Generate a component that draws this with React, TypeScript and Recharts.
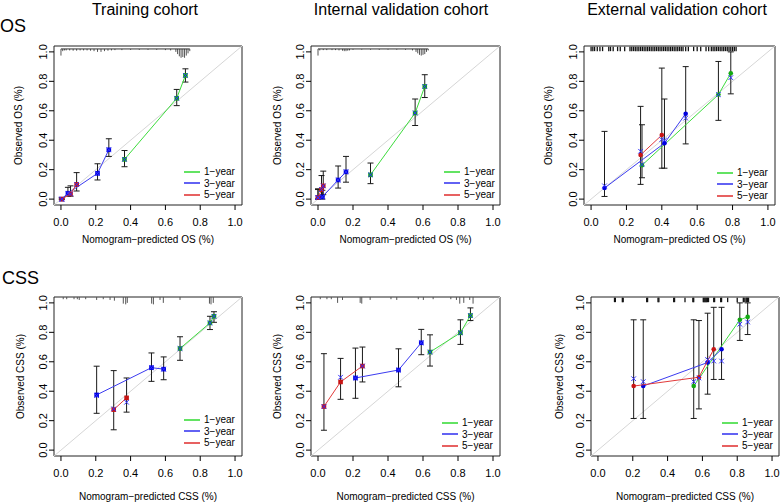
import React from "react";
import { ScatterChart, Scatter, XAxis, YAxis, ErrorBar, ReferenceLine, ReferenceArea, Legend } from "recharts";

const font = '"Liberation Sans", Arial, Helvetica, sans-serif';

const axisTicks = [0, 0.2, 0.4, 0.6, 0.8, 1.0];
const seriesNames = ["1\u2212year", "3\u2212year", "5\u2212year"];
const lineColors = ["#3ddc3d", "#3b3bf0", "#e23a3a"];
const markerColors = ["#12a812", "#0000e0", "#c81414"];
const corrColor = "#2f2fff";

// rows: [predicted, observed, lower CI, upper CI, bias-corrected]
const trainOs1y = [[0.365, 0.27, 0.22, 0.33, 0.27], [0.665, 0.685, 0.635, 0.745, 0.685], [0.715, 0.84, 0.795, 0.885, 0.84]];
const trainOs3y = [[0.005, 0.0, 0.0, 0.01, 0.0], [0.04, 0.04, 0.02, 0.08, 0.04], [0.21, 0.175, 0.13, 0.24, 0.175], [0.275, 0.335, 0.29, 0.41, 0.335]];
const trainOs5y = [[0.005, 0.0, 0.0, 0.01, 0.0], [0.055, 0.035, 0.02, 0.09, 0.035], [0.09, 0.1, 0.055, 0.18, 0.1]];

const intOs1y = [[0.3, 0.165, 0.105, 0.245, 0.165], [0.555, 0.585, 0.5, 0.68, 0.585], [0.61, 0.765, 0.69, 0.845, 0.765]];
const intOs3y = [[0.0, 0.01, 0.0, 0.065, 0.01], [0.025, 0.015, 0.0, 0.06, 0.015], [0.115, 0.13, 0.075, 0.225, 0.13], [0.16, 0.185, 0.115, 0.29, 0.185]];
const intOs5y = [[0.0, 0.01, 0.0, 0.07, 0.01], [0.02, 0.065, 0.02, 0.16, 0.065], [0.03, 0.09, 0.03, 0.19, 0.09]];

const extOs1y = [[0.288, 0.23, 0.145, 0.505, 0.235], [0.72, 0.71, 0.535, 0.935, 0.71], [0.79, 0.855, 0.715, 1.0, 0.825]];
const extOs3y = [[0.076, 0.075, 0.018, 0.46, 0.09], [0.415, 0.38, 0.21, 0.68, 0.4], [0.535, 0.58, 0.375, 0.9, 0.55]];
const extOs5y = [[0.28, 0.3, 0.1, 0.63, 0.325], [0.4, 0.435, 0.21, 0.89, 0.405]];

const trainCss1y = [[0.684, 0.69, 0.61, 0.77, 0.69], [0.856, 0.864, 0.819, 0.909, 0.864], [0.879, 0.909, 0.868, 0.94, 0.909]];
const trainCss3y = [[0.205, 0.375, 0.25, 0.57, 0.37], [0.52, 0.56, 0.467, 0.66, 0.56], [0.59, 0.55, 0.478, 0.633, 0.55]];
const trainCss5y = [[0.303, 0.275, 0.138, 0.54, 0.28], [0.377, 0.355, 0.258, 0.49, 0.325]];

const intCss1y = [[0.64, 0.666, 0.571, 0.783, 0.666], [0.814, 0.797, 0.718, 0.885, 0.797], [0.871, 0.914, 0.88, 0.966, 0.914]];
const intCss3y = [[0.214, 0.49, 0.352, 0.693, 0.49], [0.46, 0.544, 0.43, 0.688, 0.544], [0.59, 0.729, 0.648, 0.82, 0.729]];
const intCss5y = [[0.034, 0.296, 0.135, 0.655, 0.296], [0.129, 0.463, 0.345, 0.623, 0.495], [0.254, 0.571, 0.463, 0.7, 0.571]];

const extCss1y = [[0.55, 0.435, 0.215, 0.885, 0.465], [0.815, 0.885, 0.745, 1.0, 0.855], [0.86, 0.905, 0.785, 1.0, 0.87]];
const extCss3y = [[0.26, 0.435, 0.215, 0.885, 0.465], [0.63, 0.595, 0.38, 0.93, 0.615], [0.71, 0.685, 0.48, 0.97, 0.605]];
const extCss5y = [[0.205, 0.435, 0.215, 0.885, 0.485], [0.58, 0.495, 0.28, 0.88, 0.49], [0.665, 0.685, 0.48, 0.97, 0.605]];

// rug of predicted values along the top of each panel
const trainOsRugX = [0.0, 0.01, 0.02, 0.03, 0.05, 0.07, 0.09, 0.11, 0.13, 0.15, 0.17, 0.19, 0.21, 0.23, 0.25, 0.27, 0.29, 0.31, 0.35, 0.4, 0.45, 0.5, 0.55, 0.6, 0.63, 0.66, 0.67, 0.68, 0.69, 0.7, 0.71, 0.72, 0.73, 0.74];
const trainOsRugH = [0.045, 0.015, 0.01, 0.01, 0.01, 0.012, 0.012, 0.01, 0.01, 0.01, 0.012, 0.015, 0.02, 0.02, 0.015, 0.012, 0.01, 0.008, 0.008, 0.006, 0.006, 0.006, 0.006, 0.008, 0.01, 0.02, 0.035, 0.05, 0.06, 0.055, 0.06, 0.045, 0.03, 0.015];
const intOsRugX = [0.0, 0.01, 0.03, 0.05, 0.08, 0.1, 0.12, 0.14, 0.15, 0.16, 0.17, 0.18, 0.2, 0.25, 0.3, 0.35, 0.4, 0.45, 0.5, 0.54, 0.56, 0.57, 0.58, 0.59, 0.6, 0.61, 0.62, 0.63];
const intOsRugH = [0.045, 0.01, 0.008, 0.008, 0.008, 0.008, 0.01, 0.012, 0.015, 0.015, 0.012, 0.01, 0.006, 0.005, 0.005, 0.006, 0.005, 0.005, 0.006, 0.01, 0.02, 0.03, 0.04, 0.045, 0.04, 0.035, 0.02, 0.01];
const extOsRugX = [0.0, 0.01, 0.02, 0.035, 0.05, 0.065, 0.1, 0.11, 0.125, 0.15, 0.165, 0.19, 0.22, 0.23, 0.24, 0.25, 0.26, 0.27, 0.28, 0.29, 0.3, 0.31, 0.32, 0.33, 0.34, 0.35, 0.36, 0.37, 0.38, 0.39, 0.4, 0.41, 0.42, 0.43, 0.44, 0.45, 0.46, 0.47, 0.48, 0.49, 0.5, 0.51, 0.52, 0.535, 0.55, 0.58, 0.6, 0.62, 0.65, 0.665, 0.68, 0.69, 0.7, 0.71, 0.72, 0.73, 0.74, 0.75, 0.76, 0.77, 0.78, 0.79, 0.8, 0.81, 0.82];
const trainCssRugX = [0.013, 0.033, 0.075, 0.094, 0.105, 0.142, 0.205, 0.243, 0.282, 0.307, 0.358, 0.372, 0.381, 0.521, 0.531, 0.569, 0.588, 0.684, 0.853, 0.862, 0.875];
const trainCssRugH = [0.015, 0.015, 0.015, 0.015, 0.02, 0.015, 0.02, 0.015, 0.02, 0.025, 0.045, 0.05, 0.04, 0.045, 0.05, 0.02, 0.04, 0.02, 0.045, 0.05, 0.04];
const intCssRugX = [0.013, 0.051, 0.076, 0.112, 0.14, 0.241, 0.25, 0.298, 0.417, 0.45, 0.573, 0.602, 0.658, 0.759, 0.791, 0.81, 0.833, 0.867, 0.886];
const intCssRugH = [0.015, 0.015, 0.015, 0.04, 0.02, 0.04, 0.045, 0.02, 0.015, 0.02, 0.015, 0.02, 0.015, 0.015, 0.02, 0.045, 0.04, 0.02, 0.045];
const extCssRugX = [0.095, 0.1, 0.14, 0.145, 0.28, 0.285, 0.345, 0.35, 0.435, 0.44, 0.5, 0.545, 0.55, 0.605, 0.61, 0.615, 0.62, 0.625, 0.63, 0.635, 0.665, 0.67, 0.705, 0.71, 0.745, 0.8, 0.835, 0.84, 0.85, 0.855, 0.86, 0.865];

type Rows = number[][];
interface PanelCfg {
  left: number;
  top: number;
  width: number;
  height: number;
  margin: number[]; // top, right, bottom (x axis height), left (y axis width)
  series: Rows[];
  marker: "square" | "circle";
  rugKind: "hist" | "spikes" | "ticks";
  rugX: number[];
  rugH?: number[];
  outcome: string;
  yLabelX: number;
  xLabelOffset: number;
  legendPos: { left: number; top: number };
}

const panels: PanelCfg[] = [
  { left: 0, top: 0, width: 260, height: 250, margin: [46, 18, 45, 54], series: [trainOs1y, trainOs3y, trainOs5y], marker: "square", rugKind: "hist", rugX: trainOsRugX, rugH: trainOsRugH, outcome: "OS", yLabelX: 18, xLabelOffset: 7, legendPos: { left: 184, top: 166 } },
  { left: 260, top: 0, width: 260, height: 250, margin: [46, 20, 45, 51], series: [intOs1y, intOs3y, intOs5y], marker: "square", rugKind: "hist", rugX: intOsRugX, rugH: intOsRugH, outcome: "OS", yLabelX: 17, xLabelOffset: 7, legendPos: { left: 184, top: 166 } },
  { left: 520, top: 0, width: 260, height: 250, margin: [46, 5, 45, 64], series: [extOs1y, extOs3y, extOs5y], marker: "circle", rugKind: "ticks", rugX: extOsRugX, outcome: "OS", yLabelX: 28, xLabelOffset: 7, legendPos: { left: 197, top: 167 } },
  { left: 0, top: 250, width: 260, height: 253, margin: [47, 18, 47, 54], series: [trainCss1y, trainCss3y, trainCss5y], marker: "square", rugKind: "spikes", rugX: trainCssRugX, rugH: trainCssRugH, outcome: "CSS", yLabelX: 20, xLabelOffset: 3, legendPos: { left: 184, top: 164 } },
  { left: 260, top: 250, width: 260, height: 253, margin: [47, 20, 47, 51], series: [intCss1y, intCss3y, intCss5y], marker: "square", rugKind: "spikes", rugX: intCssRugX, rugH: intCssRugH, outcome: "CSS", yLabelX: 17, xLabelOffset: 3, legendPos: { left: 182, top: 167 } },
  { left: 520, top: 250, width: 260, height: 253, margin: [47, 1, 47, 71], series: [extCss1y, extCss3y, extCss5y], marker: "circle", rugKind: "ticks", rugX: extCssRugX, outcome: "CSS", yLabelX: 39, xLabelOffset: 3, legendPos: { left: 202, top: 167 } },
];

const XTick = (props: any) => {
  const { x, y, payload } = props;
  return (
    <text x={x} y={y + 14} textAnchor="middle" fontSize={11} fontFamily={font} fill="#000">
      {payload.value.toFixed(1)}
    </text>
  );
};

const YTick = (props: any) => {
  const { x, y, payload } = props;
  return (
    <text x={x} y={y} transform={`rotate(-90 ${x} ${y})`} textAnchor="middle" fontSize={11} fontFamily={font} fill="#000">
      {payload.value.toFixed(1)}
    </text>
  );
};

const makeMarker = (kind: "square" | "circle", color: string) => (props: any) => {
  const { cx, cy } = props;
  if (kind === "square") return <rect x={cx - 2.3} y={cy - 2.3} width={4.6} height={4.6} fill={color} />;
  return <circle cx={cx} cy={cy} r={2.3} fill={color} />;
};

const CrossMark = (props: any) => {
  const { cx, cy } = props;
  const s = 2.3;
  return (
    <g stroke={corrColor} strokeWidth={1}>
      <line x1={cx - s} y1={cy - s} x2={cx + s} y2={cy + s} />
      <line x1={cx - s} y1={cy + s} x2={cx + s} y2={cy - s} />
    </g>
  );
};

const LegendBox = () => (
  <div style={{ fontFamily: font, fontSize: 10, color: "#000" }}>
    {seriesNames.map((n, i) => (
      <div key={n} style={{ display: "flex", alignItems: "center", height: 11.6, whiteSpace: "nowrap" }}>
        <svg width={16} height={4} style={{ display: "block" }}>
          <line x1={0} y1={2} x2={16} y2={2} stroke={lineColors[i]} strokeWidth={1.6} />
        </svg>
        <span style={{ marginLeft: 4, lineHeight: "11.6px" }}>{n}</span>
      </div>
    ))}
  </div>
);

const renderRug = (cfg: PanelCfg) => {
  const { rugKind, rugX, rugH } = cfg;
  if (rugKind === "ticks") {
    return rugX.map((x, i) => (
      <ReferenceLine key={`r${i}`} segment={[{ x, y: 1.005 }, { x, y: 1.035 }]} stroke="#111" strokeWidth={1.3} ifOverflow="visible" />
    ));
  }
  const base = rugKind === "hist" ? 1.02 : 1.04;
  const out = rugX.map((x, i) => (
    <ReferenceLine key={`r${i}`} segment={[{ x, y: base }, { x, y: base - (rugH ? rugH[i] : 0.02) }]} stroke="#555" strokeWidth={1} ifOverflow="visible" />
  ));
  if (rugKind === "hist") {
    out.push(
      <ReferenceLine key="rbase" segment={[{ x: rugX[0], y: base }, { x: rugX[rugX.length - 1], y: base }]} stroke="#333" strokeWidth={1} ifOverflow="visible" />
    );
  }
  return out;
};

const Panel = ({ cfg }: { cfg: PanelCfg }) => {
  const { left, top, width, height, margin, series, marker, outcome } = cfg;
  return (
    <div style={{ position: "absolute", left, top }}>
      <ScatterChart width={width} height={height} margin={{ top: margin[0], right: margin[1], bottom: 0, left: 0 }}>
        <XAxis
          type="number"
          dataKey="x"
          domain={[-0.04, 1.04]}
          ticks={axisTicks}
          interval={0}
          allowDataOverflow
          height={margin[2]}
          axisLine={false}
          tickLine={{ stroke: "#000" }}
          tickSize={5}
          tick={XTick}
          label={{ value: `Nomogram\u2212predicted ${outcome} (%)`, position: "insideBottom", offset: cfg.xLabelOffset, fontSize: 10, fill: "#000", fontFamily: font }}
        />
        <YAxis
          type="number"
          dataKey="y"
          domain={[-0.04, 1.04]}
          ticks={axisTicks}
          interval={0}
          allowDataOverflow
          width={margin[3]}
          axisLine={false}
          tickLine={{ stroke: "#000" }}
          tickSize={5}
          tick={YTick}
          label={{ value: `Observed ${outcome} (%)`, angle: -90, position: "insideLeft", offset: cfg.yLabelX, fontSize: 10, fill: "#000", fontFamily: font, style: { textAnchor: "middle" } }}
        />
        <ReferenceLine segment={[{ x: -0.04, y: -0.04 }, { x: 1.04, y: 1.04 }]} stroke="#d6d6d6" strokeWidth={1} />
        {renderRug(cfg)}
        <ReferenceArea x1={-0.04} x2={1.04} y1={-0.04} y2={1.04} fill="none" stroke="#222" strokeWidth={1} ifOverflow="visible" />
        {series.map((rows, i) => (
          <Scatter
            key={`s${i}`}
            name={seriesNames[i]}
            data={rows.map((r) => ({ x: r[0], y: r[1], err: [r[1] - r[2], r[3] - r[1]] }))}
            line={{ stroke: lineColors[i], strokeWidth: 1 }}
            shape={makeMarker(marker, markerColors[i])}
            isAnimationActive={false}
          >
            <ErrorBar dataKey="err" direction="y" width={3} stroke="#1a1a1a" strokeWidth={1} isAnimationActive={false} />
          </Scatter>
        ))}
        {series.map((rows, i) => (
          <Scatter key={`c${i}`} data={rows.map((r) => ({ x: r[0], y: r[4] }))} shape={CrossMark} isAnimationActive={false} legendType="none" />
        ))}
        <Legend
          layout="vertical"
          align="center"
          verticalAlign="middle"
          content={() => <LegendBox />}
          wrapperStyle={{ left: cfg.legendPos.left, top: cfg.legendPos.top, width: "auto", height: "auto" }}
        />
      </ScatterChart>
    </div>
  );
};

export default function App() {
  return (
    <div style={{ position: "absolute", left: 0, top: 0, width: 780, height: 503, background: "#fff", fontFamily: font }}>
      <svg width={780} height={503} style={{ position: "absolute", left: 0, top: 0 }}>
        <g fontFamily={font} fill="#000" style={{ whiteSpace: "pre" }}>
          <text x={0} y={32} fontSize={18}>OS</text>
          <text x={2} y={284} fontSize={18}>CSS</text>
          <text x={145} y={15} fontSize={16} textAnchor="middle">{"Training  cohort"}</text>
          <text x={401} y={15} fontSize={16} textAnchor="middle">{"Internal  validation  cohort"}</text>
          <text x={677} y={15} fontSize={16} textAnchor="middle">{"External  validation  cohort"}</text>
        </g>
      </svg>
      {panels.map((p, i) => (
        <Panel key={i} cfg={p} />
      ))}
    </div>
  );
}
